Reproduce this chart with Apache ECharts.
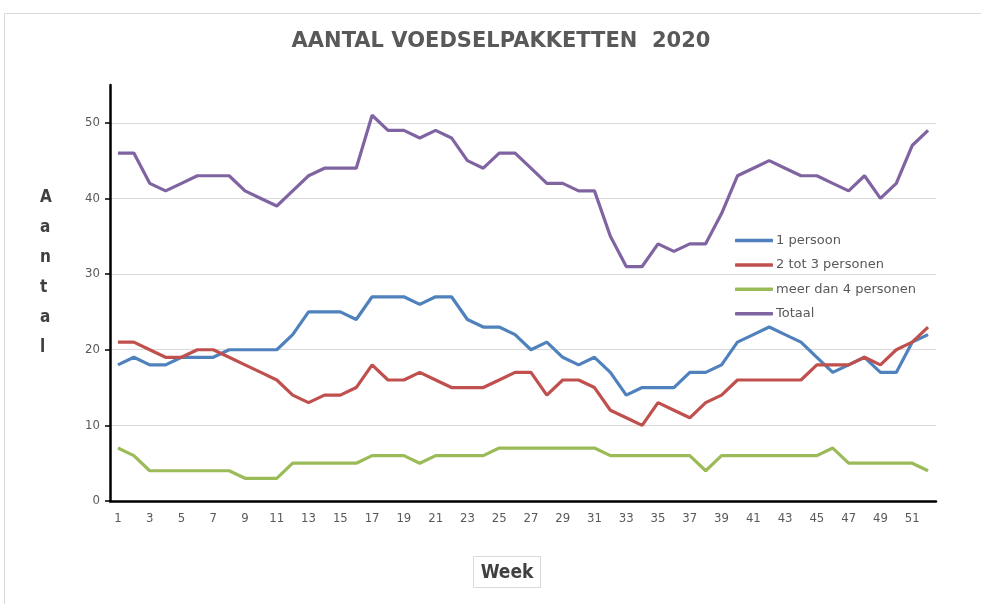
<!DOCTYPE html>
<html><head><meta charset="utf-8">
<script src="https://cdn.jsdelivr.net/npm/echarts@6/dist/echarts.min.js"></script>
<style>html,body{margin:0;padding:0;background:#fff}#c{width:981px;height:604px}</style>
</head><body><div id="c"></div>
<script>
const weeks = Array.from({length:52},(_,i)=>String(i+1));
const eenPersoon = [18,19,18,18,19,19,19,20,20,20,20,22,25,25,25,24,27,27,27,26,27,27,24,23,23,22,20,21,19,18,19,17,14,15,15,15,17,17,18,21,22,23,22,21,19,17,18,19,17,17,21,22];
const tweeTot3 = [21,21,20,19,19,20,20,19,18,17,16,14,13,14,14,15,18,16,16,17,16,15,15,15,16,17,17,14,16,16,15,12,11,10,13,12,11,13,14,16,16,16,16,16,18,18,18,19,18,20,21,23];
const meerDan4 = [7,6,4,4,4,4,4,4,3,3,3,5,5,5,5,5,6,6,6,5,6,6,6,6,7,7,7,7,7,7,7,6,6,6,6,6,6,4,6,6,6,6,6,6,6,7,5,5,5,5,5,4];
const totaal = [46,46,42,41,42,43,43,43,41,40,39,41,43,44,44,44,51,49,49,48,49,48,45,44,46,46,44,42,42,41,41,35,31,31,34,33,34,34,38,43,44,45,44,43,43,42,41,43,40,42,47,49];
const seriesNames = ['1 persoon','2 tot 3 personen','meer dan 4 personen','Totaal'];
const colors = ['#4F81BD','#C0504D','#9BBB59','#8064A2'];
const data = [eenPersoon, tweeTot3, meerDan4, totaal];
const font = '"Liberation Sans Narrow","DejaVu Sans Condensed","Liberation Sans",sans-serif';
const wide = '"DejaVu Sans",sans-serif';

const chart = echarts.init(document.getElementById('c'));
chart.setOption({
  animation:false,
  backgroundColor:'#fff',
  title:{text:'AANTAL VOEDSELPAKKETTEN  2020',left:496,top:26,textAlign:'center',
    textStyle:{fontFamily:wide,fontWeight:'bold',fontSize:21,color:'#595959'}},
  graphic:[
    {type:'rect',shape:{x:4.5,y:13.5,width:990,height:600},style:{fill:'none',stroke:'#d9d9d9',lineWidth:1},silent:true},
    {type:'text',left:40,top:183,style:{text:'A\na\nn\nt\na\nl',font:'bold 17px '+font,fill:'#404040',lineHeight:30,align:'center'}},
    {type:'rect',shape:{x:473.5,y:556.5,width:67,height:31},style:{fill:'#fff',stroke:'#d9d9d9',lineWidth:1}},
    {type:'text',x:507,y:573,style:{text:'Week',font:'bold 19px '+font,fill:'#404040',align:'center',verticalAlign:'middle'}}
  ],
  legend:{orient:'vertical',left:730,top:229,itemWidth:38,itemHeight:3.5,itemGap:11.4,
    icon:'roundRect',
    textStyle:{fontFamily:wide,fontSize:13,color:'#595959',padding:[0,0,0,-2]},
    data:seriesNames},
  grid:{left:110,right:45,top:85,bottom:103,containLabel:false},
  xAxis:{type:'category',data:weeks,boundaryGap:true,
    axisLine:{lineStyle:{color:'#000',width:2.5}},
    axisTick:{show:false},
    axisLabel:{interval:1,color:'#595959',fontFamily:font,fontSize:13,margin:11}},
  yAxis:{type:'value',min:0,max:55,interval:10,
    axisLine:{show:true,lineStyle:{color:'#000',width:2.5}},
    axisTick:{show:true,length:5,lineStyle:{color:'#000',width:1.5}},
    axisLabel:{color:'#595959',fontFamily:font,fontSize:13,margin:10,showMaxLabel:false},
    splitLine:{show:true,showMaxLine:false,lineStyle:{color:'#d9d9d9',width:1}}},
  series:data.map((d,i)=>({name:seriesNames[i],type:'line',data:d,symbol:'none',
    lineStyle:{color:colors[i],width:3.2},itemStyle:{color:colors[i]}}))
});
</script></body></html>
